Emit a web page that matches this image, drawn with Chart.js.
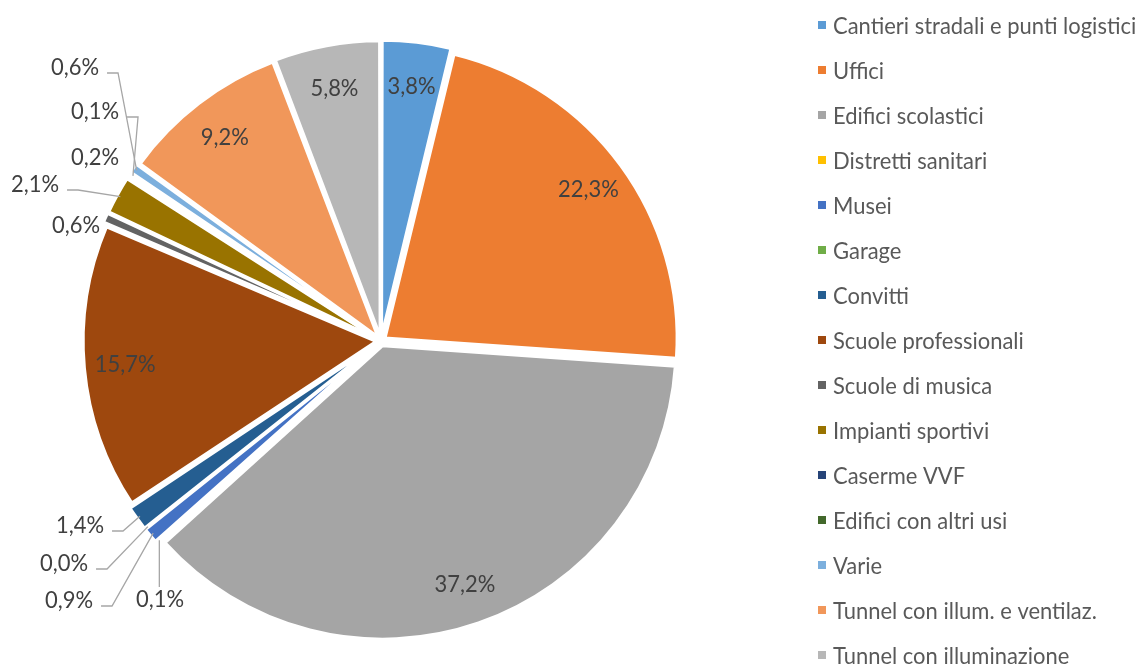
<!DOCTYPE html>
<html>
<head>
<meta charset="utf-8">
<script src="https://cdn.jsdelivr.net/npm/chart.js@4.4.1/dist/chart.umd.min.js"></script>
<style>
  html, body { margin: 0; padding: 0; background: #fff; }
  #wrap { position: relative; width: 1143px; height: 664px; }
</style>
</head>
<body>
<div id="wrap"><canvas id="pie"></canvas></div>
<script>
const categories = [
  "Cantieri stradali e punti logistici",
  "Uffici",
  "Edifici scolastici",
  "Distretti sanitari",
  "Musei",
  "Garage",
  "Convitti",
  "Scuole professionali",
  "Scuole di musica",
  "Impianti sportivi",
  "Caserme VVF",
  "Edifici con altri usi",
  "Varie",
  "Tunnel con illum. e ventilaz.",
  "Tunnel con illuminazione",
];
const shares = [3.8, 22.3, 37.2, 0.1, 0.9, 0.0, 1.4, 15.7, 0.6, 2.1, 0.2, 0.1, 0.6, 9.2, 5.8];
const sliceColors = [
  "#5B9BD5", "#ED7D31", "#A5A5A5", "#FFC000", "#4472C4",
  "#70AD47", "#255E91", "#9E480E", "#636363", "#997300",
  "#264478", "#43682B", "#7CAFDD", "#F1975A", "#B7B7B7",
];

// thin slices: label moved out to a free spot (text centre), mostly with a leader line
const calloutSpots = {
  3: [160, 599], 4: [69, 600], 5: [64, 563], 6: [80, 525],
  8: [76, 225], 9: [35, 184], 10: [95, 157], 11: [95, 111], 12: [75, 67],
};
const noLeader = [8, 10];

const FONT = '24px Lato, "Open Sans", sans-serif';
const SQUEEZE = 0.915; // Lato runs wider than the narrow office font

function pct(v) {
  return v.toFixed(1).replace(".", ",") + "%";
}

function squeezedText(ctx, text, x, y) {
  ctx.save();
  ctx.translate(x, y);
  ctx.scale(SQUEEZE, 1);
  ctx.fillText(text, 0, 0);
  ctx.restore();
}

const sliceLabels = {
  id: "sliceLabels",
  afterDatasetsDraw(chart) {
    const ctx = chart.ctx;
    const meta = chart.getDatasetMeta(0);
    ctx.save();
    ctx.font = FONT;
    ctx.textAlign = "center";
    ctx.textBaseline = "middle";
    meta.data.forEach((arc, i) => {
      const { x, y, startAngle, endAngle, outerRadius } = arc.getProps(
        ["x", "y", "startAngle", "endAngle", "outerRadius"], true);
      const mid = (startAngle + endAngle) / 2;
      const text = pct(shares[i]);
      const spot = calloutSpots[i];
      if (!spot) {
        const r = outerRadius * 0.88;
        ctx.fillStyle = "#404040";
        squeezedText(ctx, text, x + Math.cos(mid) * r, y + Math.sin(mid) * r);
        return;
      }
      const [tx, ty] = spot;
      const w = ctx.measureText(text).width * SQUEEZE;
      if (!noLeader.includes(i)) {
        const px = x + Math.cos(mid) * (outerRadius + 6);
        const py = y + Math.sin(mid) * (outerRadius + 6);
        ctx.strokeStyle = "#A6A6A6";
        ctx.lineWidth = 1.3;
        ctx.beginPath();
        if (Math.abs(px - tx) < w / 2) {
          ctx.moveTo(px, ty - 12);
          ctx.lineTo(px, py);
        } else {
          const sx = tx + w / 2 + 8;
          ctx.moveTo(sx, ty + 6);
          ctx.lineTo(sx + 11, ty + 6);
          ctx.lineTo(px, py);
        }
        ctx.stroke();
      }
      ctx.fillStyle = "#404040";
      squeezedText(ctx, text, tx, ty);
    });
    ctx.restore();
  },
};

// legend column on the right
const sideLegend = {
  id: "sideLegend",
  afterDraw(chart) {
    const ctx = chart.ctx;
    ctx.save();
    ctx.font = FONT;
    ctx.textAlign = "left";
    ctx.textBaseline = "middle";
    categories.forEach((name, i) => {
      const cy = 25 + i * 45;
      ctx.fillStyle = sliceColors[i];
      ctx.fillRect(818, cy - 4, 8, 8);
      ctx.fillStyle = "#595959";
      squeezedText(ctx, name, 833, cy + 1);
    });
    ctx.restore();
  },
};

new Chart(document.getElementById("pie"), {
  type: "pie",
  data: {
    labels: categories,
    datasets: [{
      data: shares,
      backgroundColor: sliceColors,
      borderColor: "#ffffff",
      borderWidth: 3,
      offset: 20,
      radius: 292,
    }],
  },
  options: {
    responsive: true,
    maintainAspectRatio: false,
    animation: false,
    events: [],
    layout: { padding: { left: 0, right: 381, top: 18, bottom: 0 } },
    plugins: {
      legend: { display: false },
      tooltip: { enabled: false },
    },
  },
  plugins: [sliceLabels, sideLegend],
});
</script>
</body>
</html>
